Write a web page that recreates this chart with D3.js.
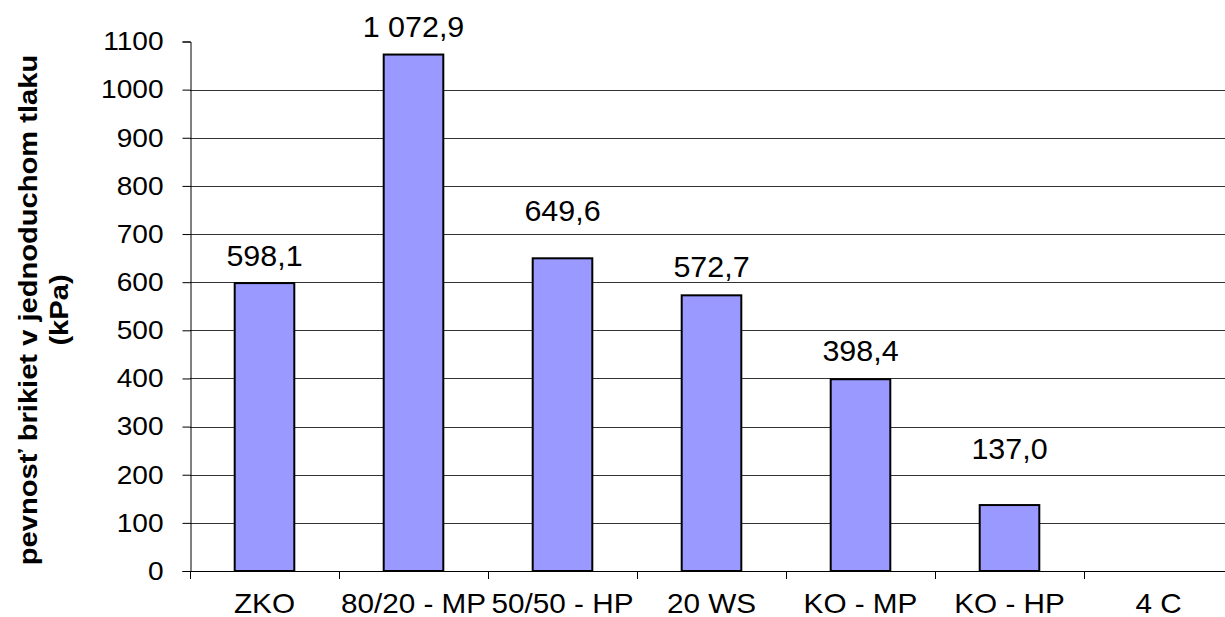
<!DOCTYPE html>
<html>
<head>
<meta charset="utf-8">
<script src="https://cdn.jsdelivr.net/npm/d3@7"></script>
<style>
  body { margin: 0; background: #fff; }
  text { font-family: Arial, "Liberation Sans", sans-serif; fill: #000; }
</style>
</head>
<body>
<div id="chart"></div>
<script>
// categories and values
const categories = ["ZKO", "80/20 - MP", "50/50 - HP", "20 WS", "KO - MP", "KO - HP", "4 C"];
const values = [598.1, 1072.9, 649.6, 572.7, 398.4, 137.0, null];
const valueLabels = ["598,1", "1 072,9", "649,6", "572,7", "398,4", "137,0", ""];
const yTicks = [0, 100, 200, 300, 400, 500, 600, 700, 800, 900, 1000, 1100];
// extra lift of each data label above its bar (px), Excel staggered some of them
const labelLift = [17, 18, 37, 18, 18, 46, 0];

(function () {
  const width = 1225, height = 617;
  const plotLeft = 190, plotBottom = 571, plotTop = 41.5;
  const step = 149;
  const stretch = 1.08; // the original text is a bit wider than Arial

  const svg = d3.select("#chart").append("svg")
    .attr("width", width)
    .attr("height", height);

  const x = d3.scaleBand()
    .domain(categories)
    .range([plotLeft, plotLeft + step * categories.length])
    .paddingInner(0.6)
    .paddingOuter(0.3);

  const y = d3.scaleLinear()
    .domain([0, 1100])
    .range([plotBottom, plotTop]);

  // gridlines (no line at the top value)
  svg.append("g")
    .selectAll("line")
    .data(yTicks.filter(t => t > 0 && t < 1100))
    .enter()
    .append("line")
    .attr("x1", plotLeft)
    .attr("x2", width)
    .attr("y1", d => Math.round(y(d)) + 0.5)
    .attr("y2", d => Math.round(y(d)) + 0.5)
    .attr("stroke", "#333")
    .attr("stroke-width", 1);

  // bars
  const bars = categories.map((c, i) => ({ cat: c, value: values[i], label: valueLabels[i], lift: labelLift[i] }))
    .filter(d => d.value != null);

  svg.append("g")
    .selectAll("rect")
    .data(bars)
    .enter()
    .append("rect")
    .attr("x", d => x(d.cat))
    .attr("y", d => y(d.value))
    .attr("width", x.bandwidth())
    .attr("height", d => y(0) - y(d.value))
    .attr("fill", "#9999FF")
    .attr("stroke", "#000")
    .attr("stroke-width", 2);

  // data labels
  svg.append("g")
    .selectAll("text")
    .data(bars)
    .enter()
    .append("text")
    .attr("transform", d => `translate(${x(d.cat) + x.bandwidth() / 2},${y(d.value) - d.lift}) scale(1.05,1)`)
    .attr("text-anchor", "middle")
    .style("font-size", "29px")
    .text(d => d.label);

  // y axis
  const yAxis = d3.axisLeft(y)
    .tickValues(yTicks)
    .tickSize(8)
    .tickPadding(17)
    .tickFormat(d => d);

  const gy = svg.append("g")
    .attr("transform", `translate(${plotLeft + 0.5},0)`)
    .call(yAxis);
  gy.select(".domain").attr("stroke", "#000");
  gy.selectAll(".tick line").attr("stroke", "#000");
  gy.selectAll(".tick text")
    .style("font-size", "26px")
    .attr("font-family", "Arial, 'Liberation Sans', sans-serif")
    .attr("transform", `scale(${stretch},1)`);

  // x axis: line plus ticks at the category boundaries
  svg.append("line")
    .attr("x1", plotLeft)
    .attr("x2", width)
    .attr("y1", plotBottom + 0.5)
    .attr("y2", plotBottom + 0.5)
    .attr("stroke", "#000");

  const boundaries = d3.range(categories.length + 1).map(i => plotLeft + i * x.step());
  svg.append("g")
    .selectAll("line")
    .data(boundaries)
    .enter()
    .append("line")
    .attr("x1", d => Math.round(d) + 0.5)
    .attr("x2", d => Math.round(d) + 0.5)
    .attr("y1", plotBottom)
    .attr("y2", plotBottom + 8)
    .attr("stroke", "#000");

  svg.append("g")
    .selectAll("text")
    .data(categories)
    .enter()
    .append("text")
    .attr("transform", d => `translate(${x(d) + x.bandwidth() / 2},613) scale(1.1,1)`)
    .attr("text-anchor", "middle")
    .style("font-size", "27px")
    .text(d => d);

  // y axis title, two lines
  const title = svg.append("text")
    .attr("transform", "translate(28,310) rotate(-90) scale(1.12,1)")
    .attr("text-anchor", "middle")
    .style("font-size", "26px")
    .style("font-weight", "bold");
  title.append("tspan").attr("x", 0).attr("dy", "0.35em").text("pevnosť brikiet v jednoduchom tlaku");
  title.append("tspan").attr("x", 0).attr("dy", "31px").text("(kPa)");
})();
</script>
</body>
</html>
